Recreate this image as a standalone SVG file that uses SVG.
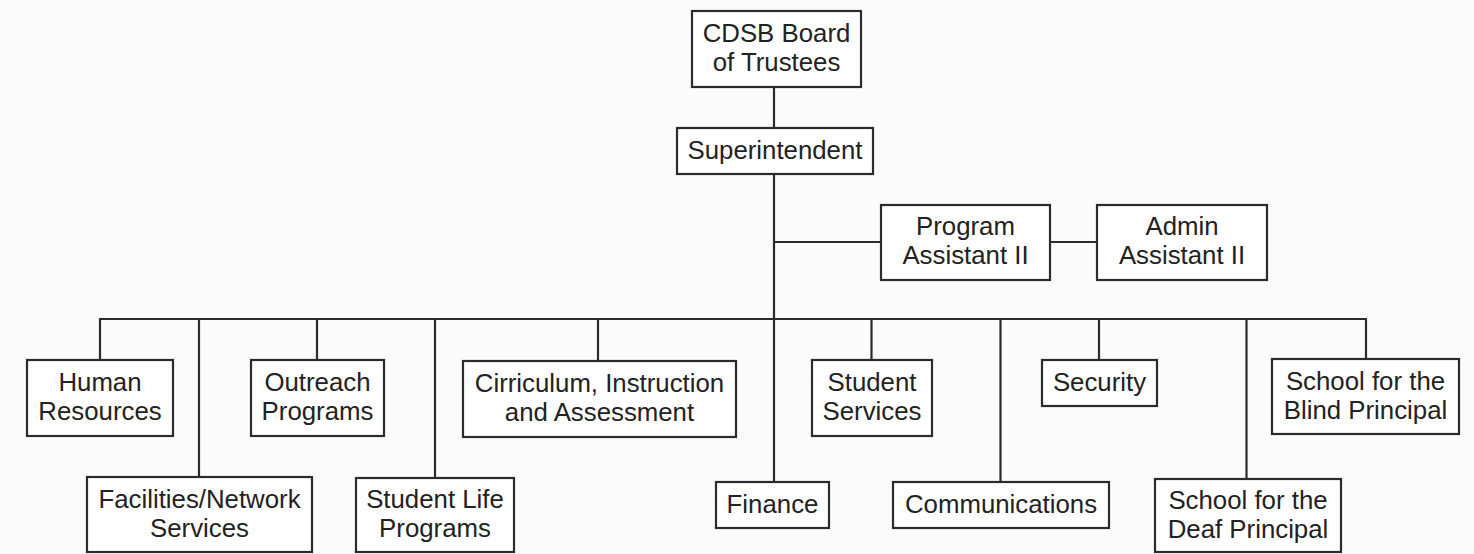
<svg xmlns="http://www.w3.org/2000/svg" width="1474" height="554" viewBox="0 0 1474 554">
  <style>
    .box { fill: #ffffff; stroke: #2b2b2b; stroke-width: 2.2; }
    .wire { fill: none; stroke: #2b2b2b; stroke-width: 2.2; }
    text { font-family: "Liberation Sans", Arial, sans-serif; font-size: 25.8px; fill: #222222; text-anchor: middle; }
  </style>
  <rect width="1474" height="554" fill="#fbfbfb"/>

  <g id="connectors">
    <line class="wire" x1="774" y1="87" x2="774" y2="128"/>
    <line class="wire" x1="774" y1="174" x2="774" y2="482"/>
    <line class="wire" x1="774" y1="242" x2="881" y2="242"/>
    <line class="wire" x1="1050" y1="242" x2="1097" y2="242"/>
    <line class="wire" x1="99" y1="319" x2="1367" y2="319"/>
    <line class="wire" x1="100" y1="319" x2="100" y2="360"/>
    <line class="wire" x1="199" y1="319" x2="199" y2="477"/>
    <line class="wire" x1="317" y1="319" x2="317" y2="360"/>
    <line class="wire" x1="435" y1="319" x2="435" y2="478"/>
    <line class="wire" x1="598" y1="319" x2="598" y2="361"/>
    <line class="wire" x1="871.5" y1="319" x2="871.5" y2="360"/>
    <line class="wire" x1="1000.5" y1="319" x2="1000.5" y2="482"/>
    <line class="wire" x1="1099" y1="319" x2="1099" y2="360"/>
    <line class="wire" x1="1246.5" y1="319" x2="1246.5" y2="479"/>
    <line class="wire" x1="1366" y1="319" x2="1366" y2="359"/>
  </g>

  <g id="board">
    <rect class="box" x="692" y="11" width="169" height="76"/>
    <text x="776.5" y="41.5">CDSB Board</text>
    <text x="776.5" y="70.5">of Trustees</text>
  </g>
  <g id="superintendent">
    <rect class="box" x="677" y="128" width="196" height="46"/>
    <text x="775" y="159">Superintendent</text>
  </g>
  <g id="program-assistant">
    <rect class="box" x="881" y="205" width="169" height="75"/>
    <text x="965.5" y="235">Program</text>
    <text x="965.5" y="264">Assistant II</text>
  </g>
  <g id="admin-assistant">
    <rect class="box" x="1097" y="205" width="170" height="75"/>
    <text x="1182" y="235">Admin</text>
    <text x="1182" y="264">Assistant II</text>
  </g>
  <g id="human-resources">
    <rect class="box" x="27" y="360" width="146" height="76"/>
    <text x="100" y="391">Human</text>
    <text x="100" y="420">Resources</text>
  </g>
  <g id="facilities">
    <rect class="box" x="87" y="477" width="225" height="75"/>
    <text x="199.5" y="507.5">Facilities/Network</text>
    <text x="199.5" y="536.5">Services</text>
  </g>
  <g id="outreach">
    <rect class="box" x="251" y="360" width="133" height="76"/>
    <text x="317.5" y="391">Outreach</text>
    <text x="317.5" y="420">Programs</text>
  </g>
  <g id="student-life">
    <rect class="box" x="356" y="478" width="158" height="74"/>
    <text x="435" y="508">Student Life</text>
    <text x="435" y="537">Programs</text>
  </g>
  <g id="curriculum">
    <rect class="box" x="463" y="361" width="273" height="76"/>
    <text x="599.5" y="392">Cirriculum, Instruction</text>
    <text x="599.5" y="421">and Assessment</text>
  </g>
  <g id="finance">
    <rect class="box" x="716" y="482" width="113" height="46"/>
    <text x="772.5" y="513">Finance</text>
  </g>
  <g id="student-services">
    <rect class="box" x="812" y="360" width="120" height="76"/>
    <text x="872" y="391">Student</text>
    <text x="872" y="420">Services</text>
  </g>
  <g id="communications">
    <rect class="box" x="893" y="482" width="216" height="46"/>
    <text x="1001" y="513">Communications</text>
  </g>
  <g id="security">
    <rect class="box" x="1042" y="360" width="115" height="46"/>
    <text x="1099.5" y="391">Security</text>
  </g>
  <g id="deaf-principal">
    <rect class="box" x="1155" y="479" width="186" height="73"/>
    <text x="1248" y="509">School for the</text>
    <text x="1248" y="538">Deaf Principal</text>
  </g>
  <g id="blind-principal">
    <rect class="box" x="1272" y="359" width="187" height="75"/>
    <text x="1365.5" y="389.5">School for the</text>
    <text x="1365.5" y="418.5">Blind Principal</text>
  </g>
</svg>
